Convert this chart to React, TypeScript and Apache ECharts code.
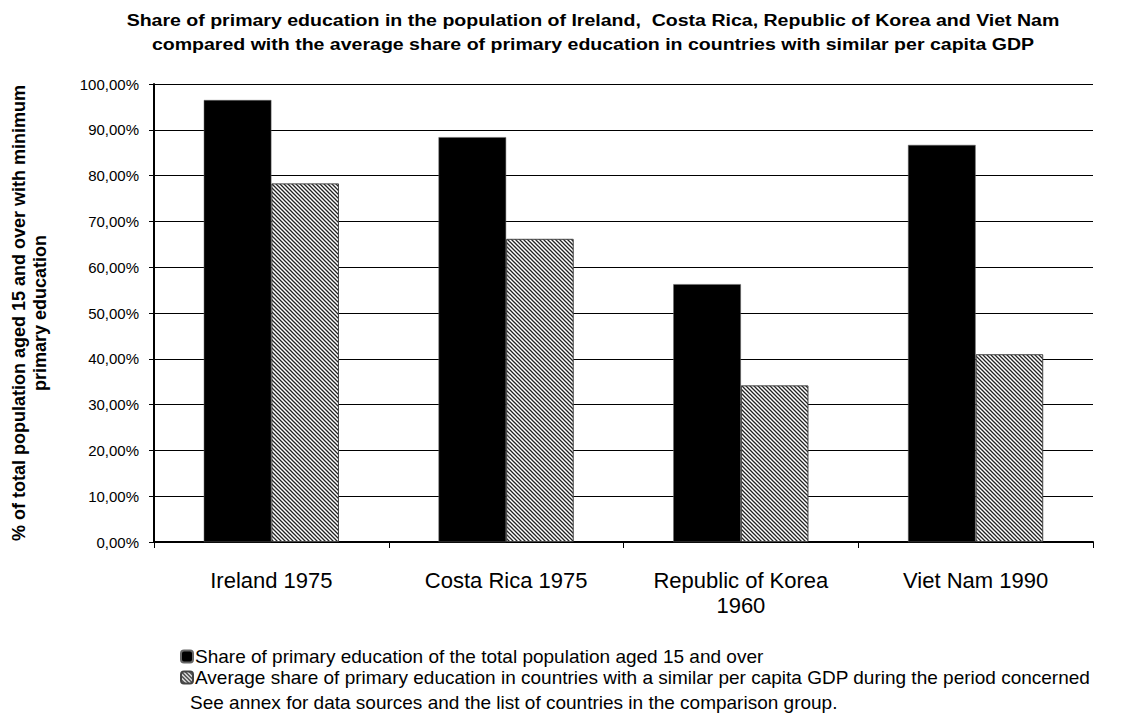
import React, { useEffect, useRef } from "react";
import * as echarts from "echarts";

const categories = ["Ireland 1975", "Costa Rica 1975", "Republic of Korea\n1960", "Viet Nam 1990"];
const shareOfPopulation = [96.5, 88.4, 56.3, 86.7];
const comparisonAverage = [78.3, 66.2, 34.2, 41.0];
const yTicks = [0, 10, 20, 30, 40, 50, 60, 70, 80, 90, 100];

const seriesNames = [
  "Share of primary education of the total population aged 15 and over",
  "Average share of primary education in countries with a similar per capita GDP during the period concerned",
];
const titleLines = [
  "Share of primary education in the population of Ireland,  Costa Rica, Republic of Korea and Viet Nam",
  "compared with the average share of primary education in countries with similar per capita GDP",
];
const yAxisTitle = "% of total population aged 15 and over with minimum\nprimary education";
const note = "See annex for data sources and the list of countries in the comparison group.";

// diagonal hatch tile used as the fill of the comparison bars
const hatchSvg =
  "<svg xmlns='http://www.w3.org/2000/svg' width='4' height='4'>" +
  "<rect width='4' height='4' fill='white'/>" +
  "<path d='M-1,-1 L5,5 M-1,3 L1,5 M3,-1 L5,1' stroke='#222' stroke-width='1.3'/>" +
  "</svg>";
const hatchUrl = "data:image/svg+xml;base64," + btoa(hatchSvg);

const FONT = "'Liberation Sans', Arial, sans-serif";

export default function App() {
  const ref = useRef<HTMLDivElement>(null);

  useEffect(() => {
    if (!ref.current) return;
    const chart = echarts.init(ref.current, null, { renderer: "svg" });
    const img = new Image();
    img.src = hatchUrl;
    const hatch = { image: img, repeat: "repeat" } as any;

    const titleText = (text: string, y: number) => ({
      type: "text",
      x: 593,
      y,
      scaleX: 1.15,
      style: {
        text,
        fontSize: 17,
        fontWeight: "bold",
        fill: "#000",
        fontFamily: FONT,
        align: "center",
        verticalAlign: "middle",
      },
    });

    chart.setOption({
      animation: false,
      backgroundColor: "#fff",
      textStyle: { fontFamily: FONT },
      grid: { left: 147, right: 38, top: 84, bottom: 182, containLabel: false },
      legend: {
        orient: "vertical",
        left: 175,
        top: 642,
        itemWidth: 12,
        itemHeight: 12,
        itemGap: 2,
        selectedMode: false,
        textStyle: { fontSize: 19, color: "#000", fontFamily: FONT, padding: [0, 0, 0, -3] },
        data: seriesNames,
      },
      xAxis: {
        type: "category",
        data: categories,
        axisLine: { lineStyle: { color: "#000", width: 2 } },
        axisTick: { show: true, interval: 0, alignWithLabel: false, length: 6, lineStyle: { color: "#000" } },
        axisLabel: { interval: 0, fontSize: 22, color: "#000", margin: 26, lineHeight: 25, fontFamily: FONT },
      },
      yAxis: {
        type: "value",
        min: 0,
        max: 100,
        interval: 10,
        name: yAxisTitle,
        nameLocation: "middle",
        nameGap: 104,
        nameTextStyle: { fontSize: 18, fontWeight: "bold", color: "#000", lineHeight: 21, fontFamily: FONT },
        axisLine: { show: true, lineStyle: { color: "#000", width: 2 } },
        axisTick: { show: true, length: 5, lineStyle: { color: "#000" } },
        splitLine: { lineStyle: { color: "#000", width: 1 } },
        axisLabel: {
          fontSize: 15,
          color: "#000",
          margin: 15,
          fontFamily: FONT,
          formatter: (v: number) => (yTicks.includes(v) ? v.toFixed(2).replace(".", ",") + "%" : ""),
        },
      },
      series: [
        {
          name: seriesNames[0],
          type: "bar",
          data: shareOfPopulation,
          barWidth: "28.8%",
          barGap: "0%",
          itemStyle: { color: "#000", borderColor: "#666", borderWidth: 0.5 },
        },
        {
          name: seriesNames[1],
          type: "bar",
          data: comparisonAverage,
          barWidth: "28.8%",
          itemStyle: { color: hatch, borderColor: "#444", borderWidth: 1 },
        },
      ],
      graphic: [
        titleText(titleLines[0], 20),
        titleText(titleLines[1], 44),
        {
          type: "text",
          left: 190,
          top: 693,
          style: { text: note, fontSize: 19, fill: "#000", fontFamily: FONT },
        },
      ],
    });
    img.onload = () => chart.setOption({});
    return () => chart.dispose();
  }, []);

  return <div ref={ref} style={{ width: 1131, height: 724, position: "absolute", left: 0, top: 0 }} />;
}
